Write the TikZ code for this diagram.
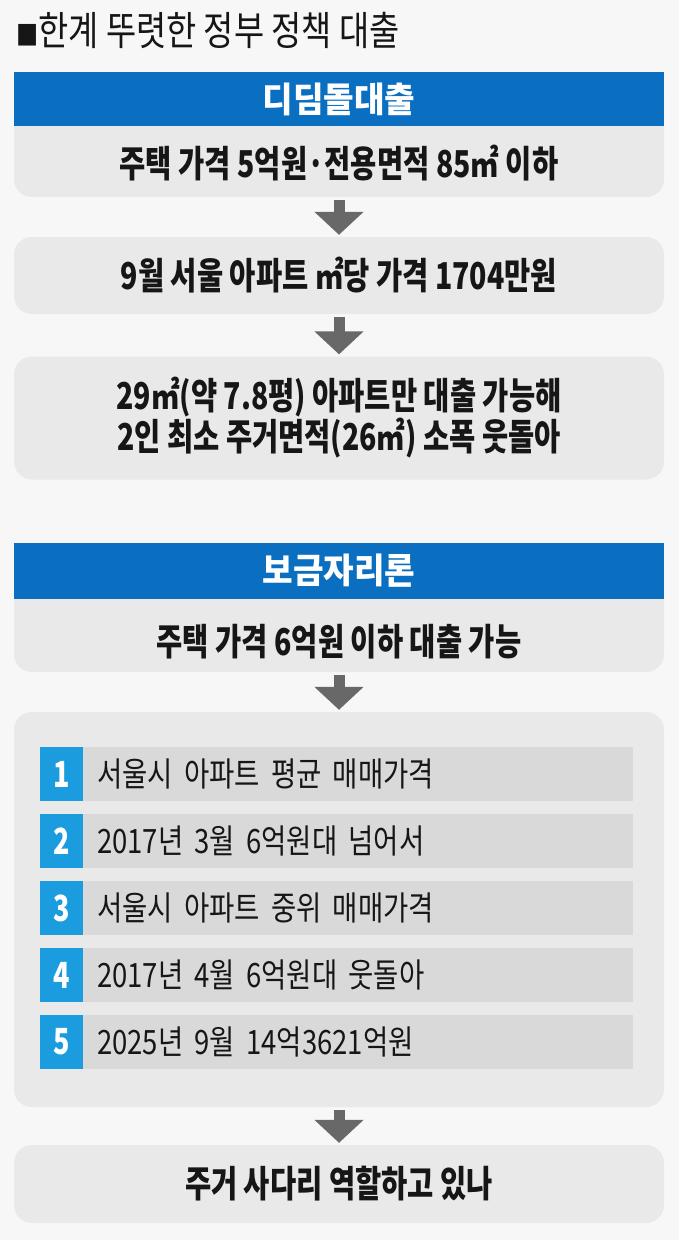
\documentclass[tikz,border=0pt]{standalone}
\usepackage{fontspec}
\setmainfont{Noto Sans CJK KR}[FakeStretch=0.82]
\newfontfamily\panelfont{Noto Sans CJK KR}[FakeStretch=0.77]
\newfontfamily\bandfont{Noto Sans CJK KR}[FakeStretch=0.95]
\newfontfamily\numfont{Noto Sans CJK KR}[FakeStretch=0.75]
\usetikzlibrary{arrows.meta,positioning}
\definecolor{bandblue}{RGB}{10,111,193}
\definecolor{numblue}{RGB}{26,156,222}
\definecolor{panelgray}{RGB}{233,233,233}
\definecolor{bargray}{RGB}{217,217,217}
\definecolor{pagegray}{RGB}{247,247,247}
\definecolor{arrowgray}{RGB}{104,104,104}
\definecolor{inkblack}{RGB}{22,22,22}
\begin{document}
\begin{tikzpicture}[x=1pt,y=-1pt,
  paneltext/.style={text=inkblack,align=center,font=\panelfont\fontsize{37}{39}\selectfont\bfseries},
  panel/.style={paneltext,fill=panelgray,rounded corners=18pt,minimum width=650pt},
  band/.style={fill=bandblue,minimum width=650pt,text=white,
    font=\bandfont\fontsize{35}{38}\selectfont\bfseries},
  bar/.style={fill=bargray,anchor=west,minimum height=54pt,text width=522pt,inner xsep=14pt,
    text=inkblack,font=\fontsize{33.5}{36}\selectfont},
  num/.style={fill=numblue,anchor=east,minimum width=43pt,minimum height=54pt,text=white,
    font=\numfont\fontsize{36}{38}\selectfont\bfseries},
  flow/.style={draw=arrowgray,line width=11pt,-{Triangle[width=48pt,length=23pt]},
    shorten <=3pt,shorten >=2pt}]
\useasboundingbox[fill=pagegray] (0,0) rectangle (679,1240);
\node[anchor=west,inner sep=0pt,text=inkblack,font=\fontsize{40}{42}\selectfont]
  (title) at (16,30) {{\fontsize{27}{27}\selectfont ■}한계 뚜렷한 정부 정책 대출};
% 디딤돌대출
\node[panel,minimum height=125pt] (dd1) at (339,134.5) {};
\node[band,minimum height=54pt] (dd) at (339,99) {디딤돌대출};
\node[paneltext] (dd1t) at (339,163) {주택 가격 5억원·전용면적 85㎡ 이하};
\node[panel,minimum height=77pt] (dd2) at (339,275.5) {9월 서울 아파트 ㎡당 가격 1704만원};
\node[panel,minimum height=123pt] (dd3) at (339,418)
  {29㎡(약 7.8평) 아파트만 대출 가능해\\2인 최소 주거면적(26㎡) 소폭 웃돌아};
\draw[flow] (dd1.south) -- (dd2.north);
\draw[flow] (dd2.south) -- (dd3.north);
% 보금자리론
\node[panel,minimum height=128pt] (bg1) at (339,608) {};
\node[band,minimum height=56pt] (bg) at (339,571) {보금자리론};
\node[paneltext] (bg1t) at (339,642) {주택 가격 6억원 이하 대출 가능};
\node[panel,minimum height=395pt] (bg2) at (339,909.5) {};
\node[bar] (r1) at (83,774) {서울시 아파트 평균 매매가격};
\node[num] (n1) at (r1.west) {1};
\node[bar] (r2) at (83,841) {2017년 3월 6억원대 넘어서};
\node[num] (n2) at (r2.west) {2};
\node[bar] (r3) at (83,908) {서울시 아파트 중위 매매가격};
\node[num] (n3) at (r3.west) {3};
\node[bar] (r4) at (83,975) {2017년 4월 6억원대 웃돌아};
\node[num] (n4) at (r4.west) {4};
\node[bar] (r5) at (83,1042) {2025년 9월 14억3621억원};
\node[num] (n5) at (r5.west) {5};
\node[panel,minimum height=78pt] (bg3) at (339,1184) {주거 사다리 역할하고 있나};
\draw[flow] (bg1.south) -- (bg2.north);
\draw[flow] (bg2.south) -- (bg3.north);
\end{tikzpicture}
\end{document}
